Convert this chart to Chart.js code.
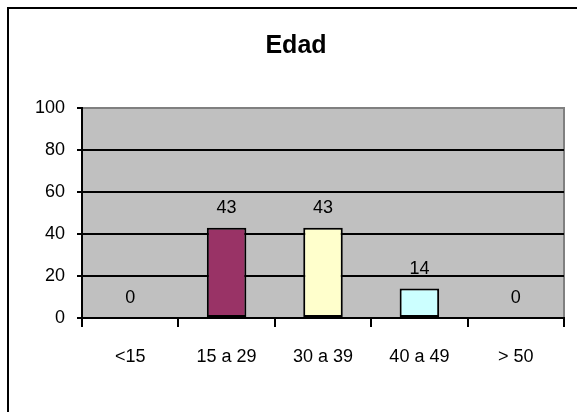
<!DOCTYPE html>
<html>
<head>
<meta charset="utf-8">
<script src="https://cdn.jsdelivr.net/npm/chart.js@4.4.1/dist/chart.umd.min.js"></script>
<style>
  html, body { margin: 0; padding: 0; background: #fff; }
  #wrap { width: 577px; height: 412px; }
</style>
<script>
  // data
  var categories = ["<15", "15 a 29", "30 a 39", "40 a 49", "> 50"];
  var values = [0, 43, 43, 14, 0];
  var barColors = ["#9999FF", "#993366", "#FFFFCC", "#CCFFFF", "#660066"];
  var titleText = "Edad";
  var yMax = 100;
  var yStep = 20;
</script>
</head>
<body>
<div id="wrap"><canvas id="myChart" width="577" height="412"></canvas></div>
<script>
  var fontFamily = "'Liberation Sans', Arial, sans-serif";

  // grey plot area, outer frame, title and value labels
  var frame = {
    id: 'frame',
    beforeDraw: function (chart) {
      var c = chart.ctx, a = chart.chartArea;
      c.save();
      c.fillStyle = '#fff';
      c.fillRect(0, 0, chart.width, chart.height);
      c.strokeStyle = '#000';
      c.lineWidth = 2;
      c.strokeRect(8, 8, chart.width + 20, chart.height + 20);
      c.fillStyle = '#C0C0C0';
      c.fillRect(a.left, a.top, a.right - a.left, a.bottom - a.top);
      c.strokeStyle = '#808080';
      c.lineWidth = 2;
      c.strokeRect(a.left, a.top, a.right - a.left, a.bottom - a.top);
      c.fillStyle = '#000';
      c.font = 'bold 25px ' + fontFamily;
      c.textAlign = 'center';
      c.textBaseline = 'middle';
      c.fillText(titleText, 296, 46);
      c.restore();
    },
    afterDatasetsDraw: function (chart) {
      var c = chart.ctx;
      var meta = chart.getDatasetMeta(0);
      c.save();
      c.fillStyle = '#000';
      c.font = '18px ' + fontFamily;
      c.textAlign = 'center';
      c.textBaseline = 'middle';
      meta.data.forEach(function (bar, i) {
        c.fillText(String(values[i]), bar.x, bar.y - 20);
      });
      c.restore();
    }
  };

  new Chart(document.getElementById('myChart'), {
    type: 'bar',
    data: {
      labels: categories,
      datasets: [{
        data: values,
        backgroundColor: barColors,
        borderColor: function (ctx) { return values[ctx.dataIndex] ? '#000' : 'rgba(0,0,0,0)'; },
        borderWidth: 2,
        borderSkipped: false,
        barPercentage: 0.41,
        categoryPercentage: 1
      }]
    },
    options: {
      responsive: false,
      animation: false,
      events: [],
      layout: { padding: { left: 0, top: 108, right: 13, bottom: 0 } },
      plugins: { legend: { display: false }, title: { display: false }, tooltip: { enabled: false } },
      scales: {
        x: {
          afterFit: function (s) { s.height = 94; },
          grid: { offset: true, drawOnChartArea: false, drawTicks: true, tickLength: 9, color: '#000', lineWidth: 2 },
          border: { color: '#000', width: 2 },
          ticks: { color: '#000', padding: 19, font: { family: fontFamily, size: 18 } }
        },
        y: {
          min: 0,
          max: yMax,
          afterFit: function (s) { s.width = 82; },
          grid: {
            color: function (ctx) { return ctx.tick && ctx.tick.value === yMax ? 'rgba(0,0,0,0)' : '#000'; },
            tickColor: '#000',
            lineWidth: 2,
            tickLength: 5
          },
          border: { color: '#000', width: 2 },
          ticks: { stepSize: yStep, color: '#000', padding: 12, font: { family: fontFamily, size: 18 } }
        }
      }
    },
    plugins: [frame]
  });
</script>
</body>
</html>
